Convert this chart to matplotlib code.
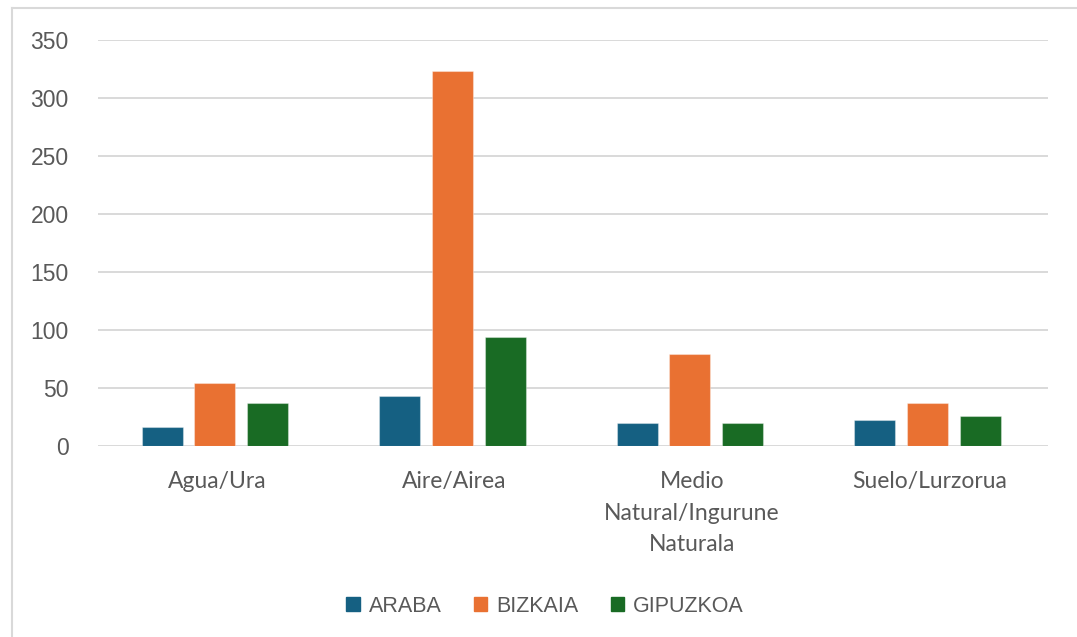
import matplotlib
matplotlib.use("Agg")
import matplotlib.pyplot as plt
import numpy as np
from matplotlib.lines import Line2D

categories = ["Agua/Ura", "Aire/Airea", "Medio\nNatural/Ingurune\nNaturala", "Suelo/Lurzorua"]
series_names = ["ARABA", "BIZKAIA", "GIPUZKOA"]
araba = [16, 43, 20, 22]
bizkaia = [54, 323, 79, 37]
gipuzkoa = [37, 94, 20, 26]
yticks = [0, 50, 100, 150, 200, 250, 300, 350]

colors = ["#156082", "#E97132", "#196B24"]
values = [araba, bizkaia, gipuzkoa]

fig = plt.figure(figsize=(10.77, 6.37), dpi=100)
ax = fig.add_axes([98/1077, 1-446/637, 950/1077, 406/637])

x = np.arange(len(categories))
width = 0.173
step = 0.222
for i, (name, vals, c) in enumerate(zip(series_names, values, colors)):
    ax.bar(x + (i-1)*step - 0.008, vals, width, color=c, label=name, zorder=3,
           edgecolor=(1, 1, 1, 0.35), linewidth=0.8)

ax.set_xlim(-0.5, len(categories)-0.5)
ax.set_ylim(0, 350)
ax.set_yticks(yticks)
ax.set_yticklabels([str(t) for t in yticks], fontfamily="Liberation Sans", fontsize=16.5, color="#595959")
ax.set_xticks(x)
ax.set_xticklabels(categories, fontfamily="Lato", fontsize=16.5, color="#595959", linespacing=1.62)
ax.tick_params(axis="y", length=0, pad=21)
ax.tick_params(axis="x", length=0, pad=18)
ax.grid(axis="y", color="#d9d9d9", linewidth=1.4, zorder=0)
for s in ax.spines.values():
    s.set_visible(False)

handles = [plt.Rectangle((0, 0), 1, 1, color=c) for c in colors]
leg = fig.legend(handles, series_names, loc="center", bbox_to_anchor=(545/1077, 1-606/637),
                 ncol=3, frameon=False, handlelength=0.62, handleheight=0.62,
                 handletextpad=0.42, columnspacing=1.5,
                 prop={"family": "Liberation Sans", "size": 15.5})
for t in leg.get_texts():
    t.set_color("#595959")

# outer chart frame (partially visible)
fig.add_artist(Line2D([12/1077, 12/1077], [0, 1-8/637], transform=fig.transFigure, color="#d9d9d9", linewidth=1.5))
fig.add_artist(Line2D([12/1077, 1], [1-8/637, 1-8/637], transform=fig.transFigure, color="#d9d9d9", linewidth=1.5))

fig.savefig("out.png", dpi=100)
